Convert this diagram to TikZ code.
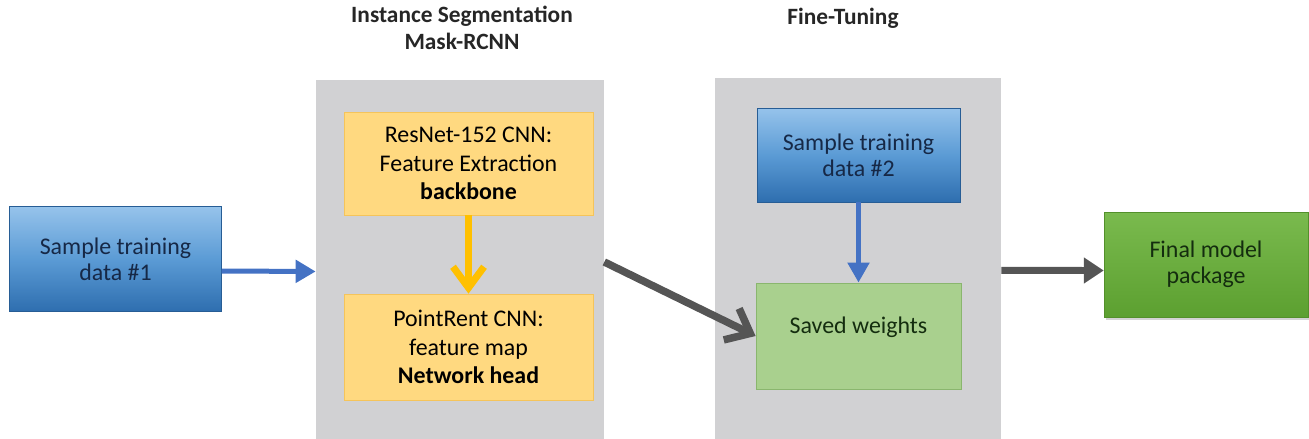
\documentclass[tikz,border=0pt]{standalone}
\usepackage{fontspec}
\setmainfont{Carlito}
\usetikzlibrary{arrows.meta, shadows}

\definecolor{panelgrey}{RGB}{209,209,211}
\definecolor{bluetop}{RGB}{150,195,235}
\definecolor{bluemid}{RGB}{91,155,213}
\definecolor{bluebot}{RGB}{46,110,175}
\definecolor{navytext}{RGB}{22,40,70}
\definecolor{yellowbox}{RGB}{255,217,128}
\definecolor{yellowline}{RGB}{245,196,90}
\definecolor{yellowarrow}{RGB}{255,192,0}
\definecolor{savedgreen}{RGB}{169,208,142}
\definecolor{savedline}{RGB}{138,182,110}
\definecolor{greentop}{RGB}{122,186,78}
\definecolor{greenbot}{RGB}{92,160,48}
\definecolor{darkgreentext}{RGB}{20,45,15}
\definecolor{arrowgrey}{RGB}{85,85,85}
\definecolor{arrowblue}{RGB}{68,114,196}

\begin{document}
\begin{tikzpicture}[x=0.02cm, y=-0.02cm,
    every node/.style={font=\fontsize{13.6}{15}\selectfont, align=center, inner sep=0pt},
    panel/.style={fill=panelgrey, minimum width=5.76cm, minimum height=7.2cm},
    databox/.style={top color=bluetop, bottom color=bluebot, middle color=bluemid,
        draw=bluebot!85!black, line width=0.3pt, text=navytext},
    cnnbox/.style={fill=yellowbox, draw=yellowline, line width=0.4pt,
        minimum width=4.98cm, font=\fontsize{13.6}{16.2}\selectfont},
    savedbox/.style={fill=savedgreen, draw=savedline, line width=0.5pt,
        minimum width=4.1cm, minimum height=2.12cm, text=darkgreentext},
    finalbox/.style={top color=greentop, bottom color=greenbot, draw=greenbot!90!black,
        line width=0.3pt, drop shadow={shadow xshift=0.04cm, shadow yshift=-0.06cm, opacity=0.35},
        minimum width=4.08cm, minimum height=2.1cm, text=darkgreentext},
    title/.style={font=\fontsize{13.3}{15.5}\selectfont\bfseries, text=black!85}]

    \useasboundingbox (0,0) rectangle (1309,439);

    % Grey panels
    \node[panel, minimum height=7.18cm] (P1) at (460,259.5) {};
    \node[panel, minimum width=5.72cm, minimum height=7.22cm] (P2) at (858,258.5) {};

    % Panel titles
    \node[title] (T1) at (462,28) {Instance Segmentation\\Mask-RCNN};
    \node[title] (T2) at (843,18) {Fine-Tuning};

    % Input data
    \node[databox, minimum width=4.24cm, minimum height=2.1cm] (D1) at (115.5,259) {Sample training\\data \#1};

    % Mask-RCNN blocks
    \node[cnnbox, minimum height=2.06cm] (R1) at (468.5,163.5) {ResNet-152 CNN:\\Feature Extraction\\\textbf{backbone}};
    \node[cnnbox, minimum height=2.12cm] (R2) at (468.5,347) {PointRent CNN:\\feature map\\\textbf{Network head}};

    % Fine-tuning blocks
    \node[databox, minimum width=4.06cm, minimum height=1.88cm] (D2) at (858.5,155) {Sample training\\data \#2};
    \node[savedbox, text depth=0.44cm] (S) at (858.5,336) {Saved weights};

    % Output
    \node[finalbox] (F) at (1206,264.5) {Final model\\package};

    % Connectors
    \draw[arrowblue, line width=0.1cm, -{Triangle[length=0.4cm, width=0.44cm]}]
        ([yshift=-0.24cm]D1.east) -- ([yshift=-0.24cm]P1.west);
    \draw[yellowarrow, line width=0.14cm, -{Straight Barb[length=0.42cm, width=0.62cm, line width=0.14cm]}]
        (R1.south) -- (R2.north);
    \draw[arrowgrey, line width=0.15cm, -{Straight Barb[length=0.42cm, width=0.7cm, line width=0.15cm]}]
        ([yshift=-0.05cm]P1.east) -- (S.west);
    \draw[arrowblue, line width=0.1cm, -{Triangle[length=0.4cm, width=0.42cm]}]
        (D2.south) -- (S.north);
    \draw[arrowgrey, line width=0.14cm, -{Triangle[length=0.4cm, width=0.5cm]}]
        ([yshift=-0.24cm]P2.east) -- ([yshift=-0.12cm]F.west);
\end{tikzpicture}
\end{document}
